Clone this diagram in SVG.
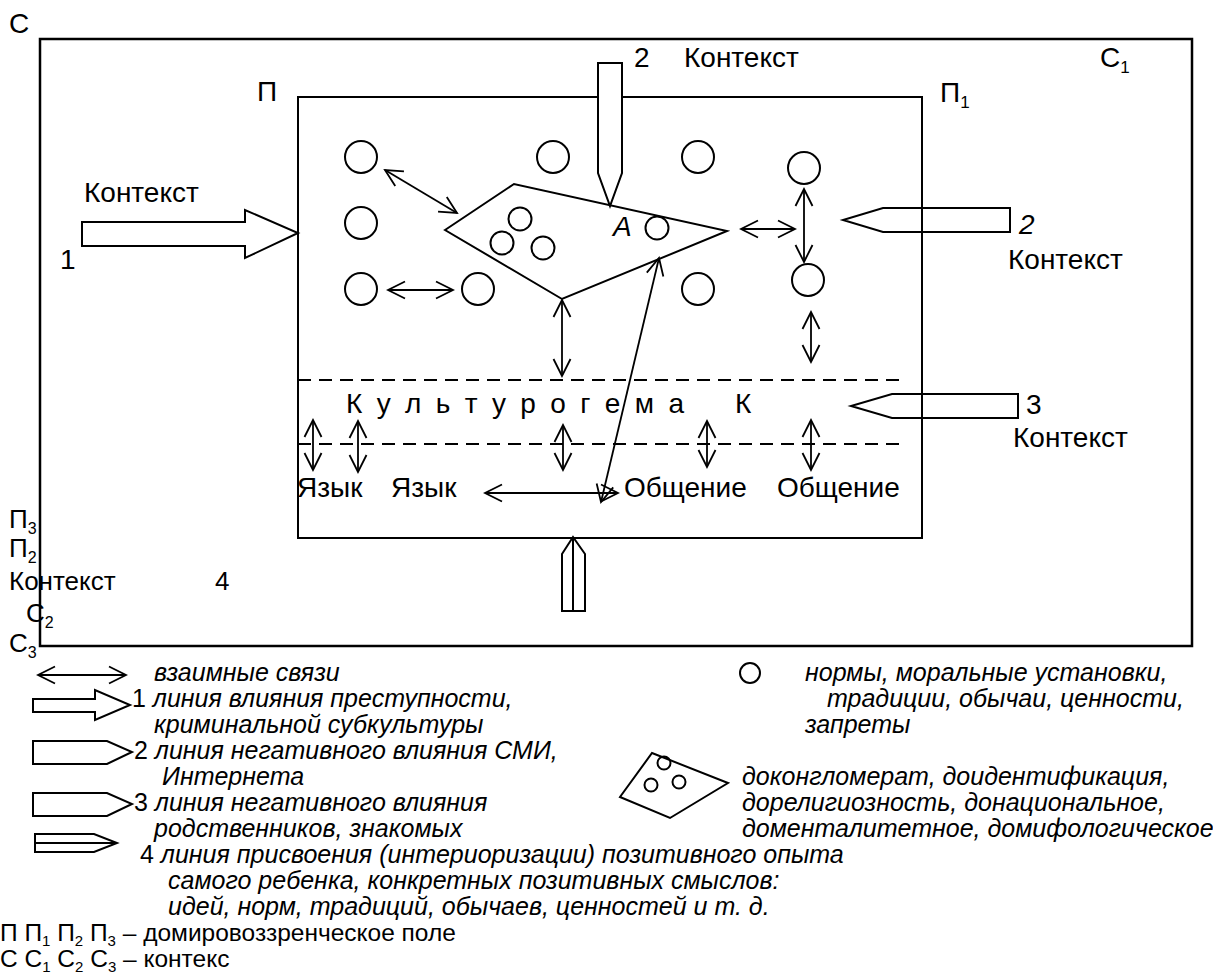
<svg xmlns="http://www.w3.org/2000/svg" width="1213" height="976" viewBox="0 0 1213 976">
<defs>
<marker id="ah" markerUnits="userSpaceOnUse" markerWidth="20" markerHeight="20" viewBox="0 0 20 20" refX="18" refY="10" orient="auto-start-reverse">
<path d="M1,1.5 L18,10 L1,18.5" fill="none" stroke="#000" stroke-width="1.8"/>
</marker>
</defs>
<style>
.t{font-family:"Liberation Sans",Arial,sans-serif;font-size:28px;fill:#000}
.b{font-family:"Liberation Sans",Arial,sans-serif;font-size:26px;fill:#000}
.l{font-family:"Liberation Sans",Arial,sans-serif;font-size:25px;font-style:italic;fill:#000}
.n{font-family:"Liberation Sans",Arial,sans-serif;font-size:24.5px;fill:#000}
.up{font-style:normal}
.s{stroke:#000;stroke-width:2;fill:none}
.o{stroke:#000;stroke-width:2.5;fill:none}
.w{stroke:#000;stroke-width:2;fill:#fff}
.a{stroke:#000;stroke-width:1.8;fill:none;marker-start:url(#ah);marker-end:url(#ah)}
.d{stroke:#000;stroke-width:2;stroke-dasharray:13 8;fill:none}
.ci{stroke:#000;stroke-width:2;fill:none}
</style>

<g id="context-C">
<rect x="40" y="39" width="1152" height="607" class="o"/>
<text class="t" x="9" y="33">С</text>
<text class="t" x="1100" y="67">С<tspan font-size="17" dy="6">1</tspan></text>
</g>

<g id="field-P">
<rect x="298" y="97" width="624" height="441" class="s"/>
<text class="t" x="257" y="101">П</text>
<text class="t" x="940" y="102">П<tspan font-size="17" dy="6">1</tspan></text>
</g>

<g id="kulturogema">
<line x1="298" y1="380" x2="900" y2="380" class="d"/>
<line x1="298" y1="444" x2="900" y2="444" class="d"/>
<text class="t" x="346" y="413" letter-spacing="3.3">К у л ь т у р о г е м а</text>
<text class="t" x="735" y="413">К</text>
</g>

<g id="circles">
<circle cx="361" cy="157" r="16" class="ci"/>
<circle cx="361" cy="223" r="16" class="ci"/>
<circle cx="361" cy="289" r="16" class="ci"/>
<circle cx="478" cy="289" r="16" class="ci"/>
<circle cx="553" cy="157" r="16" class="ci"/>
<circle cx="698" cy="157" r="16" class="ci"/>
<circle cx="698" cy="289" r="16" class="ci"/>
<circle cx="804" cy="168" r="16" class="ci"/>
<circle cx="808" cy="280" r="16" class="ci"/>
</g>

<g id="conglomerate-A">
<polygon points="445,230 514,184 727,231 562,299" class="s"/>
<circle cx="520" cy="219" r="11.5" class="ci"/>
<circle cx="502" cy="243" r="11.5" class="ci"/>
<circle cx="543" cy="248" r="11.5" class="ci"/>
<circle cx="657" cy="228" r="11.5" class="ci"/>
<text class="t" x="613" y="236" font-style="italic" font-size="24">A</text>
</g>

<g id="labels">
<text class="t" x="84" y="202">Контекст</text>
<text class="t" x="60" y="269">1</text>
<text class="t" x="634" y="67">2</text>
<text class="t" x="684" y="67">Контекст</text>
<text class="t" x="1019" y="234" font-style="italic">2</text>
<text class="t" x="1008" y="269">Контекст</text>
<text class="t" x="1026" y="414">3</text>
<text class="t" x="1013" y="447">Контекст</text>
<text class="t" x="297" y="497">Язык</text>
<text class="t" x="391" y="497">Язык</text>
<text class="t" x="624" y="497">Общение</text>
<text class="t" x="777" y="497">Общение</text>
<text class="b" x="9" y="528">П<tspan font-size="16" dy="6">3</tspan></text>
<text class="b" x="9" y="557">П<tspan font-size="16" dy="6">2</tspan></text>
<text class="b" x="9" y="590">Контекст</text>
<text class="b" x="215" y="590">4</text>
<text class="b" x="26" y="622">С<tspan font-size="16" dy="6">2</tspan></text>
<text class="b" x="9" y="652">С<tspan font-size="16" dy="6">3</tspan></text>
</g>

<g id="context-arrows">
<polygon points="82,222 245,222 245,210 298,233 245,258 245,246 82,246" class="w"/>
<polygon points="598,63 622,63 622,173 610,206 598,173" class="w"/>
<polygon points="1010,208 883,208 843,220 883,232 1010,232" class="s"/>
<polygon points="1018,394 892,394 851,406 892,418 1018,418" class="s"/>
<polygon points="562,611 562,554 573,537 585,554 585,611" class="w"/>
<line x1="573" y1="537" x2="573" y2="611" class="s"/>
</g>

<g id="connectors">
<line x1="385" y1="170" x2="457" y2="213" class="a"/>
<line x1="388" y1="290" x2="453" y2="290" class="a"/>
<line x1="562" y1="300" x2="562" y2="376" class="a"/>
<line x1="741" y1="229" x2="795" y2="229" class="a"/>
<line x1="804" y1="189" x2="804" y2="262" class="a"/>
<line x1="811" y1="312" x2="811" y2="362" class="a"/>
<line x1="313" y1="420" x2="313" y2="470" class="a"/>
<line x1="358" y1="421" x2="358" y2="472" class="a"/>
<line x1="563" y1="425" x2="563" y2="470" class="a"/>
<line x1="707" y1="421" x2="707" y2="467" class="a"/>
<line x1="811" y1="420" x2="811" y2="470" class="a"/>
<line x1="485" y1="493" x2="618" y2="493" class="a"/>
<line x1="601" y1="502" x2="659" y2="258" class="a"/>
</g>

<g id="legend">
<line x1="38" y1="675" x2="126" y2="675" class="a"/>
<text class="l" x="154" y="681">взаимные связи</text>
<polygon points="33,699 95,699 95,690 130,705 95,720 95,712 33,712" class="s"/>
<text class="l" x="132" y="707"><tspan class="up">1</tspan> линия влияния преступности,</text>
<text class="l" x="154" y="733">криминальной субкультуры</text>
<polygon points="33,741 107,741 132,752 107,764 33,764" class="s"/>
<text class="l" x="134" y="759"><tspan class="up">2</tspan> линия негативного влияния СМИ,</text>
<text class="l" x="162" y="785">Интернета</text>
<polygon points="33,793 107,793 132,804 107,816 33,816" class="s"/>
<text class="l" x="134" y="811"><tspan class="up">3</tspan> линия негативного влияния</text>
<text class="l" x="154" y="837">родственников, знакомых</text>
<polygon points="35,834 94,834 117,843 94,852 35,852" class="s"/>
<line x1="35" y1="843" x2="117" y2="843" class="s"/>
<text class="l" x="140" y="863"><tspan class="up">4</tspan> линия присвоения (интериоризации) позитивного опыта</text>
<text class="l" x="168" y="889">самого ребенка, конкретных позитивных смыслов:</text>
<text class="l" x="168" y="915">идей, норм, традиций, обычаев, ценностей и т. д.</text>
<text class="n" x="0" y="941">П П<tspan font-size="15" dy="5">1</tspan><tspan dy="-5"> П</tspan><tspan font-size="15" dy="5">2</tspan><tspan dy="-5"> П</tspan><tspan font-size="15" dy="5">3</tspan><tspan dy="-5">  – домировоззренческое поле</tspan></text>
<text class="n" x="0" y="967">С С<tspan font-size="15" dy="5">1</tspan><tspan dy="-5"> С</tspan><tspan font-size="15" dy="5">2</tspan><tspan dy="-5"> С</tspan><tspan font-size="15" dy="5">3</tspan><tspan dy="-5">  – контекс</tspan></text>
<circle cx="750" cy="673" r="10" class="ci"/>
<text class="l" x="805" y="681">нормы, моральные установки,</text>
<text class="l" x="827" y="707">традиции, обычаи, ценности,</text>
<text class="l" x="805" y="733">запреты</text>
<polygon points="652,753 728,783 670,818 620,797" class="s"/>
<circle cx="664" cy="763" r="6.5" class="ci"/>
<circle cx="651" cy="785" r="6.5" class="ci"/>
<circle cx="679" cy="782" r="6.5" class="ci"/>
<text class="l" x="742" y="785" font-size="24.5">доконгломерат, доидентификация,</text>
<text class="l" x="742" y="811" font-size="24.5">дорелигиозность, донациональное,</text>
<text class="l" x="742" y="837" font-size="24.5">доменталитетное, домифологическое</text>
</g>
</svg>
